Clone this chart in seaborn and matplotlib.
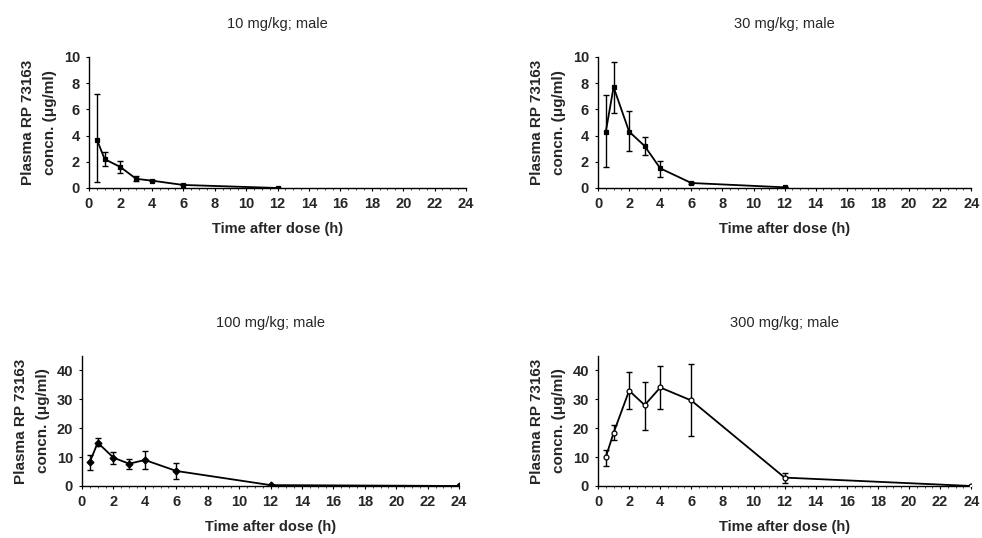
import matplotlib
matplotlib.use("Agg")
import matplotlib.pyplot as plt
import seaborn as sns
import pandas as pd
from matplotlib.ticker import MultipleLocator

# 数据
titles = ["10 mg/kg; male", "30 mg/kg; male", "100 mg/kg; male", "300 mg/kg; male"]

t_10 = [0.5, 1, 2, 3, 4, 6, 12]
c_10 = [3.7, 2.2, 1.6, 0.7, 0.56, 0.23, 0.0]
lo_10 = [0.43, 1.65, 1.15, 0.5, 0.5, 0.2, 0.0]
hi_10 = [7.15, 2.75, 2.06, 0.95, 0.62, 0.27, 0.0]

t_30 = [0.5, 1, 2, 3, 4, 6, 12]
c_30 = [4.3, 7.7, 4.3, 3.2, 1.5, 0.38, 0.05]
lo_30 = [1.6, 5.7, 2.8, 2.5, 0.85, 0.3, 0.05]
hi_30 = [7.1, 9.6, 5.9, 3.9, 2.05, 0.46, 0.05]

t_100 = [0.5, 1, 2, 3, 4, 6, 12, 24]
c_100 = [8.3, 15.0, 9.8, 7.7, 9.0, 5.2, 0.3, 0.0]
lo_100 = [5.4, 14.0, 7.5, 5.8, 6.0, 2.3, 0.3, 0.0]
hi_100 = [10.6, 16.7, 11.8, 9.5, 12.0, 7.8, 0.3, 0.0]

t_300 = [0.5, 1, 2, 3, 4, 6, 12, 24]
c_300 = [10.0, 18.4, 33.0, 28.0, 34.1, 29.6, 2.9, 0.0]
lo_300 = [6.9, 15.8, 26.7, 19.5, 26.6, 17.3, 1.2, 0.0]
hi_300 = [12.4, 21.0, 39.4, 36.0, 41.6, 42.1, 4.6, 0.0]

x_ticks = list(range(0, 25, 2))

sns.set_theme(style="ticks")
plt.rcParams['font.family'] = ['Liberation Sans', 'DejaVu Sans']

fig = plt.figure(figsize=(9.82, 5.38), dpi=100)

# 每个子图的位置 [left, bottom, width, height]
positions = [
    [0.0906, 0.6506, 0.384, 0.2435],
    [0.609, 0.6506, 0.380, 0.2435],
    [0.0835, 0.0967, 0.384, 0.2416],
    [0.609, 0.0967, 0.380, 0.2416],
]

series = [
    (t_10, c_10, lo_10, hi_10, 10, 2, "s", "black"),
    (t_30, c_30, lo_30, hi_30, 10, 2, "s", "black"),
    (t_100, c_100, lo_100, hi_100, 45, 10, "D", "black"),
    (t_300, c_300, lo_300, hi_300, 45, 10, "o", "white"),
]

for pos, title, (t, c, lo, hi, ymax, ystep, mk, mfc) in zip(positions, titles, series):
    ax = fig.add_axes(pos)
    df = pd.DataFrame({"t": t, "c": c})
    yerr = [[ci - l for ci, l in zip(c, lo)], [h - ci for ci, h in zip(c, hi)]]
    ax.errorbar(t, c, yerr=yerr, fmt="none", ecolor="black", elinewidth=1.0,
                capsize=2.5, capthick=1.0, zorder=2)
    sns.lineplot(data=df, x="t", y="c", ax=ax, color="black", linewidth=1.3,
                 marker=mk, markersize=3.5, markerfacecolor=mfc,
                 markeredgecolor="black", markeredgewidth=0.9, zorder=3)
    ax.set_xlim(0, 24)
    ax.set_ylim(0, ymax)
    ax.set_xticks(x_ticks)
    ax.yaxis.set_major_locator(MultipleLocator(ystep))
    ax.xaxis.set_minor_locator(MultipleLocator(0.5))
    ax.tick_params(axis="both", which="major", labelsize=10.5, length=2.5,
                   width=0.8, color="black", pad=4)
    ax.tick_params(axis="x", which="minor", length=1.5, width=0.6)
    for lab in ax.get_xticklabels() + ax.get_yticklabels():
        lab.set_fontweight("bold")
    for s in ["left", "bottom"]:
        ax.spines[s].set_linewidth(1.0)
        ax.spines[s].set_color("black")
    sns.despine(ax=ax)
    ax.set_title(title, fontsize=10.5, pad=21)
    ax.set_xlabel("Time after dose (h)", fontsize=10.5, fontweight="bold", labelpad=8)
    ax.set_ylabel("Plasma RP 73163\nconcn. (μg/ml)", fontsize=11,
                  fontweight="bold", labelpad=5, linespacing=1.7)

fig.savefig("out.png", dpi=100, facecolor="white")
